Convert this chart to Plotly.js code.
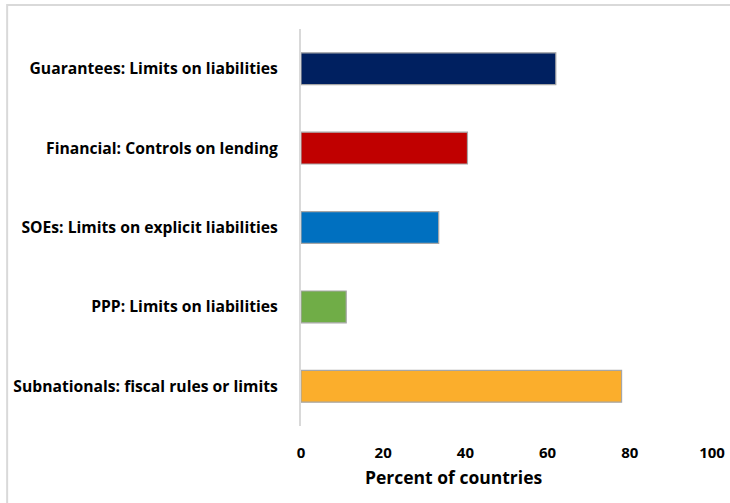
<!DOCTYPE html>
<html>
<head>
<meta charset="utf-8">
<script src="https://cdn.plot.ly/plotly-3.0.1.min.js"></script>
<style>
  html, body { margin: 0; padding: 0; background: #ffffff; }
  #chart { width: 730px; height: 503px; }
</style>
</head>
<body>
<div id="chart"></div>
<script>
// Categories listed bottom-to-top (Plotly category axis order)
var categories = [
  "Subnationals: fiscal rules or limits",
  "PPP: Limits on liabilities",
  "SOEs: Limits on explicit liabilities",
  "Financial: Controls on lending",
  "Guarantees: Limits on liabilities"
];
var percentValues = [78, 11, 33.5, 40.5, 62];
var barColors = ["#FBAE2C", "#70AD47", "#0070C0", "#C00000", "#002060"];
var xTickValues = [0, 20, 40, 60, 80, 100];
var xTitle = "Percent of countries";

var FONT = "'Open Sans', 'DejaVu Sans', sans-serif";

var trace = {
  type: "bar",
  orientation: "h",
  y: categories,
  x: percentValues,
  marker: {
    color: barColors,
    line: { color: "#A6A6A6", width: 1.2 }
  },
  hoverinfo: "x+y"
};

var layout = {
  width: 730,
  height: 503,
  margin: { l: 301, r: 18, t: 29, b: 77, pad: 0 },
  paper_bgcolor: "#ffffff",
  plot_bgcolor: "#ffffff",
  showlegend: false,
  bargap: 0.6,
  font: { family: FONT, color: "#000000" },
  xaxis: {
    range: [0, 100],
    tickvals: xTickValues,
    ticktext: xTickValues.map(String),
    showgrid: false,
    zeroline: false,
    showline: false,
    ticks: "outside",
    ticklen: 13,
    tickcolor: "rgba(0,0,0,0)",
    tickfont: { family: FONT, size: 15, color: "#000000", weight: "bold" },
    fixedrange: true
  },
  yaxis: {
    type: "category",
    categoryorder: "array",
    categoryarray: categories,
    showgrid: false,
    zeroline: false,
    showline: true,
    linecolor: "#D9D9D9",
    linewidth: 2,
    ticks: "outside",
    ticklen: 18,
    tickcolor: "rgba(0,0,0,0)",
    tickfont: { family: FONT, size: 15.7, color: "#000000", weight: "bold" },
    fixedrange: true
  },
  annotations: [
    {
      text: xTitle,
      xref: "paper", yref: "paper",
      x: 0.372, y: -0.128,
      xanchor: "center", yanchor: "middle",
      showarrow: false,
      font: { family: FONT, size: 17.5, color: "#000000", weight: "bold" }
    }
  ],
  shapes: [
    {
      type: "path",
      xref: "paper", yref: "paper",
      path: "M -0.715 -0.25 L -0.715 1.0605 L 1.1 1.0605",
      line: { color: "#D9D9D9", width: 2 }
    }
  ]
};

Plotly.newPlot("chart", [trace], layout, { displayModeBar: false, staticPlot: true });
</script>
</body>
</html>
